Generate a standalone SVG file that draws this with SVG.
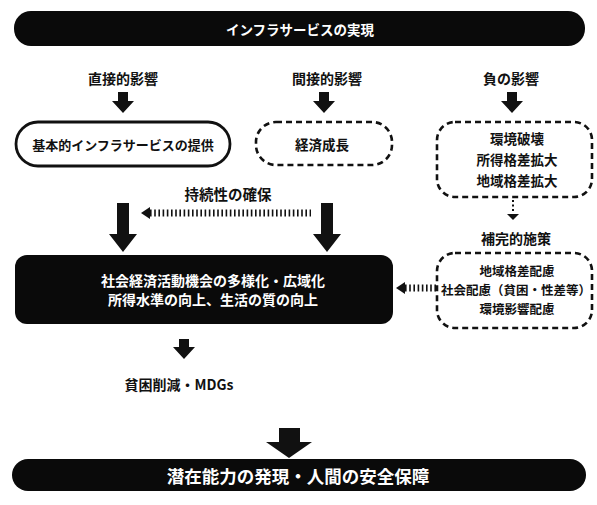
<svg xmlns="http://www.w3.org/2000/svg" width="597" height="505" viewBox="0 0 597 505">
<style>
text{font-family:"Noto Sans CJK JP","Noto Sans",sans-serif;font-weight:bold;text-anchor:middle;dominant-baseline:central}
.w{fill:#fff}
.k{fill:#111}
.bar{fill:#0a0a0a}
.solid{fill:#fff;stroke:#111;stroke-width:2.8}
.dash{fill:#fff;stroke:#111;stroke-width:2.6;stroke-dasharray:6 4}
.arr{fill:#111}
.dots{stroke:#111;stroke-width:7;stroke-dasharray:1.6 2.6;fill:none}
</style>
<rect width="597" height="505" fill="#fff"/>
<g id="top-bar">
<rect class="bar" x="14" y="11" width="571" height="35" rx="17"/>
<text class="w" x="300" y="29" font-size="13.5">インフラサービスの実現</text>
</g>
<g id="label-direct"><text class="k" x="123" y="78" font-size="14">直接的影響</text></g>
<g id="label-indirect"><text class="k" x="327" y="78" font-size="14">間接的影響</text></g>
<g id="label-negative"><text class="k" x="511" y="78" font-size="14">負の影響</text></g>
<g id="node-basic">
<rect class="solid" x="16" y="122" width="214" height="44" rx="22"/>
<text class="k" x="123" y="144" font-size="13">基本的インフラサービスの提供</text>
</g>
<g id="node-growth">
<rect class="dash" x="256" y="122" width="136" height="43" rx="20"/>
<text class="k" x="322" y="144" font-size="13.5">経済成長</text>
</g>
<g id="node-negative">
<rect class="dash" x="437" y="122" width="155" height="75" rx="18"/>
<text class="k" x="517" y="138" font-size="13.5">環境破壊</text>
<text class="k" x="517" y="159" font-size="13.5">所得格差拡大</text>
<text class="k" x="517" y="180" font-size="13.5">地域格差拡大</text>
</g>
<g id="label-sustain"><text class="k" x="228" y="193" font-size="14.5">持続性の確保</text></g>
<g id="label-complement"><text class="k" x="516" y="238" font-size="14">補完的施策</text></g>
<g id="node-complement">
<rect class="dash" x="437" y="253" width="155" height="75" rx="18"/>
<text class="k" x="517" y="270" font-size="12.5">地域格差配慮</text>
<text class="k" x="516" y="289" font-size="12.5">社会配慮（貧困・性差等）</text>
<text class="k" x="517" y="308" font-size="12.5">環境影響配慮</text>
</g>
<g id="node-socio">
<rect class="bar" x="15" y="255" width="378" height="69" rx="12"/>
<text class="w" x="213" y="280" font-size="14">社会経済活動機会の多様化・広域化</text>
<text class="w" x="213" y="299" font-size="14">所得水準の向上、生活の質の向上</text>
</g>
<g id="node-mdgs"><text class="k" x="179" y="384" font-size="14">貧困削減・MDGs</text></g>
<g id="bottom-bar">
<rect class="bar" x="12" y="459" width="574" height="32" rx="16"/>
<text class="w" x="298" y="475" font-size="17.5">潜在能力の発現・人間の安全保障</text>
</g>
<g id="connectors">
<polygon class="arr" points="118,92 128,92 128,101 134,101 123,113 112,101 118,101"/>
<polygon class="arr" points="319,92 329,92 329,101 335,101 324,113 313,101 319,101"/>
<polygon class="arr" points="507,92 517,92 517,101 523,101 512,113 501,101 507,101"/>
<polygon class="arr" points="117,203 129,203 129,234 137,234 123,252 109,234 117,234"/>
<polygon class="arr" points="321,203 333,203 333,234 341,234 327,252 313,234 321,234"/>
<line class="dots" x1="150" y1="213" x2="311" y2="213"/>
<polygon class="arr" points="141,213 150,207 150,219"/>
<line x1="513" y1="200" x2="513" y2="213" stroke="#111" stroke-width="2" stroke-dasharray="2 2.5"/>
<polygon class="arr" points="507,214 519,214 513,220"/>
<line class="dots" x1="405" y1="288" x2="436" y2="288"/>
<polygon class="arr" points="396,288 405,282 405,294"/>
<polygon class="arr" points="179,339 189,339 189,347 195,347 184,359 173,347 179,347"/>
<polygon class="arr" points="279,428 300,428 300,442 312,442 289,458 266,442 279,442"/>
</g>
</svg>
